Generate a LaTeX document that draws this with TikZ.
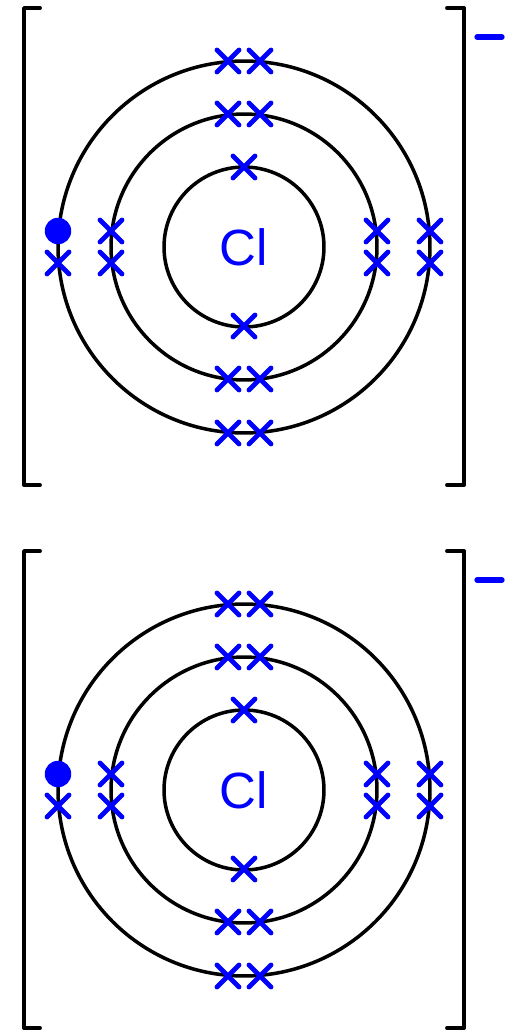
\documentclass[tikz,border=0pt]{standalone}
\usepackage{fontspec}
\setmainfont{Liberation Sans}
\usetikzlibrary{shapes.misc}
\definecolor{elec}{HTML}{0000FF}

\begin{document}
\begin{tikzpicture}[
    x=0.02cm, y=-0.02cm,
    shell/.style={draw, circle, line width=2pt, inner sep=0pt},
    inner/.style={shell, minimum size=3.2cm},
    middle/.style={shell, minimum size=5.32cm},
    outer/.style={shell, minimum size=7.44cm},
    cross/.style={draw=elec, cross out, line width=2.8pt, line cap=round, inner sep=0pt, minimum size=0.34cm},
    gained/.style={circle, fill=elec, inner sep=0pt, minimum size=0.53cm},
    brack/.style={line width=2.2pt, line cap=round, line join=round},
    charge/.style={draw=elec, line width=3pt, line cap=round},
    symb/.style={text=elec, font=\fontsize{29}{29}\selectfont, inner sep=0pt},
]
\useasboundingbox (0,0) rectangle (514,1031);

% Top atom
\node[inner] (a1) at (244,247) {};
\node[middle] (a2) at (244,247) {};
\node[outer] (a3) at (244,247) {};
\node[symb] (aCl) at (244,247) {Cl};
\node[cross] (ai1) at (244,167) {};
\node[cross] (ai2) at (244,326) {};
\node[cross] (am1) at (228,114) {};
\node[cross] (am2) at (260,114) {};
\node[cross] (am3) at (111,231) {};
\node[cross] (am4) at (111,263) {};
\node[cross] (am5) at (377,231) {};
\node[cross] (am6) at (377,263) {};
\node[cross] (am7) at (228,379) {};
\node[cross] (am8) at (260,379) {};
\node[cross] (ao1) at (228,61) {};
\node[cross] (ao2) at (260,61) {};
\node[gained] (ao3) at (58,231) {};
\node[cross] (ao4) at (58,263) {};
\node[cross] (ao5) at (430,231) {};
\node[cross] (ao6) at (430,263) {};
\node[cross] (ao7) at (228,433) {};
\node[cross] (ao8) at (260,433) {};
\draw[brack] (40,8) -- (24,8) -- (24,485) -- (40,485);
\draw[brack] (447,8) -- (464,8) -- (464,485) -- (447,485);
\draw[charge] (477,37) -- (502,37);

% Bottom atom
\node[inner] (b1) at (244,790) {};
\node[middle] (b2) at (244,790) {};
\node[outer] (b3) at (244,790) {};
\node[symb] (bCl) at (244,790) {Cl};
\node[cross] (bi1) at (244,710) {};
\node[cross] (bi2) at (244,869) {};
\node[cross] (bm1) at (228,657) {};
\node[cross] (bm2) at (260,657) {};
\node[cross] (bm3) at (111,774) {};
\node[cross] (bm4) at (111,806) {};
\node[cross] (bm5) at (377,774) {};
\node[cross] (bm6) at (377,806) {};
\node[cross] (bm7) at (228,922) {};
\node[cross] (bm8) at (260,922) {};
\node[cross] (bo1) at (228,604) {};
\node[cross] (bo2) at (260,604) {};
\node[gained] (bo3) at (58,774) {};
\node[cross] (bo4) at (58,806) {};
\node[cross] (bo5) at (430,774) {};
\node[cross] (bo6) at (430,806) {};
\node[cross] (bo7) at (228,976) {};
\node[cross] (bo8) at (260,976) {};
\draw[brack] (40,551) -- (24,551) -- (24,1028) -- (40,1028);
\draw[brack] (447,551) -- (464,551) -- (464,1028) -- (447,1028);
\draw[charge] (477,580) -- (502,580);

\end{tikzpicture}
\end{document}
